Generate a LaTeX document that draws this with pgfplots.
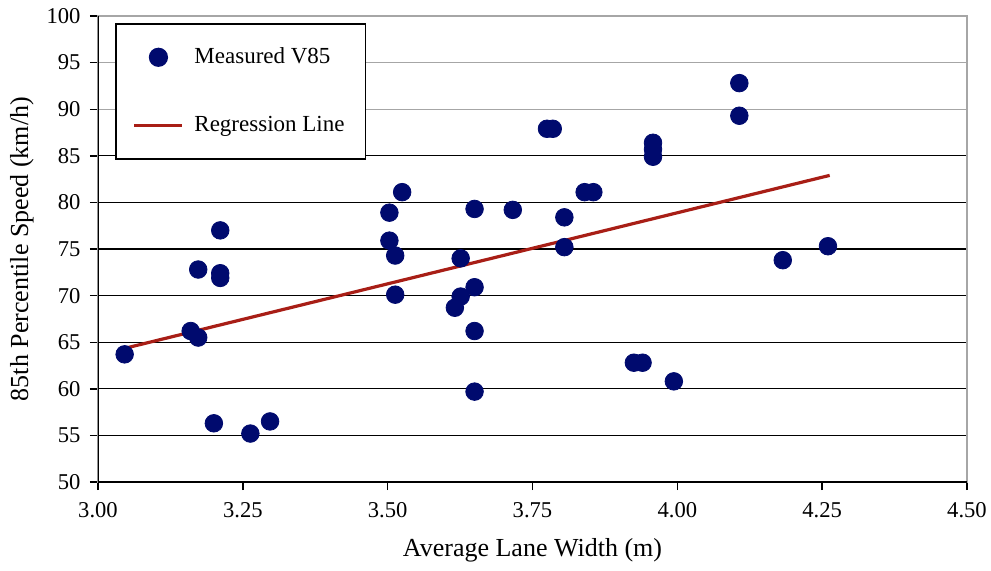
\documentclass[border=0pt]{standalone}
\usepackage{fontspec}
\setmainfont{Liberation Serif}
\usepackage{pgfplots}
\pgfplotsset{compat=1.18}
\definecolor{navy}{HTML}{000A6E}
\definecolor{regred}{HTML}{A81E16}

\begin{document}
\begin{tikzpicture}
\begin{axis}[
    width=434.5pt, height=233pt,
    scale only axis,
    xmin=3, xmax=4.5,
    ymin=50, ymax=100,
    xtick={3,3.25,...,4.5},
    ytick={50,55,...,100},
    xticklabel style={yshift=-2.5pt,/pgf/number format/.cd,fixed,fixed zerofill,precision=2},
    /pgf/number format/assume math mode=true,
    tick label style={font=\fontsize{11.3}{13}\selectfont},
    yticklabel style={xshift=-1.2pt},
    label style={font=\fontsize{13}{15}\selectfont},
    xlabel={Average Lane Width (m)},
    ylabel={85th Percentile Speed (km/h)},
    xlabel style={at={(axis description cs:0.5,-0.146)}, anchor=center},
    ylabel style={at={(axis description cs:-0.0875,0.5)}, anchor=center},
    xtick pos=bottom, ytick pos=left,
    tick align=outside,
    major tick length=4pt,
    tick style={black, line width=0.7pt},
    axis line style={gray!70, line width=0.7pt},
    ymajorgrids,
    grid style={black, line width=0.6pt},
    legend cell align=left,
    legend style={at={(0.0196,0.985)}, anchor=north west,
        draw=black, line width=0.8pt,
        font=\fontsize{11.5}{13}\selectfont,
        row sep=21pt, inner xsep=8.5pt, inner ysep=10pt},
]
\coordinate (o) at (rel axis cs:0,0);
% lighter top grid lines
\draw[gray!70, line width=0.7pt] (axis cs:3,90) -- (axis cs:4.5,90);
\draw[gray!70, line width=0.7pt] (axis cs:3,95) -- (axis cs:4.5,95);
\draw[black, line width=0.7pt] (rel axis cs:0,0) -- (rel axis cs:0,1);
\draw[black, line width=0.7pt] (rel axis cs:0,0) -- (rel axis cs:1,0);

\addplot[only marks, mark=*, mark size=4.4pt, color=navy,
    legend image code/.code={\path[draw=none,fill=none] (0pt,0pt) -- (28pt,0pt);
        \fill[navy] (12pt,0pt) circle (4.4pt);}] coordinates {
(3.046,63.7) (3.160,66.2) (3.173,65.5) (3.173,72.8) (3.211,77.0)
(3.211,72.4) (3.211,71.9) (3.200,56.3) (3.263,55.2) (3.297,56.5)
(3.503,78.9) (3.503,75.9) (3.513,74.3) (3.513,70.1) (3.525,81.1)
(3.616,68.7) (3.626,69.9) (3.650,70.9) (3.626,74.0) (3.650,79.3)
(3.650,66.2) (3.650,59.7) (3.716,79.2) (3.775,87.9) (3.785,87.9)
(3.805,78.4) (3.805,75.2) (3.840,81.1) (3.855,81.1)
(3.958,86.4) (3.958,85.7) (3.958,84.9) (3.925,62.8) (3.940,62.8)
(3.994,60.8) (4.107,92.8) (4.107,89.3) (4.182,73.8) (4.260,75.3)
};
\addlegendentry{Measured V85}
\addplot[color=regred, line width=1.6pt,
    legend image code/.code={\path[draw=none,fill=none] (0pt,0pt) -- (28pt,0pt);
        \draw[line width=1.6pt] (0pt,0pt) -- (24pt,0pt);}]
    coordinates {(3.05,64.4) (4.263,82.9)};
\addlegendentry{Regression Line}
\end{axis}
\pgfresetboundingbox
\path (o) ++(-49pt,-44pt) rectangle ++(495.5pt,285pt);
\end{tikzpicture}
\end{document}
